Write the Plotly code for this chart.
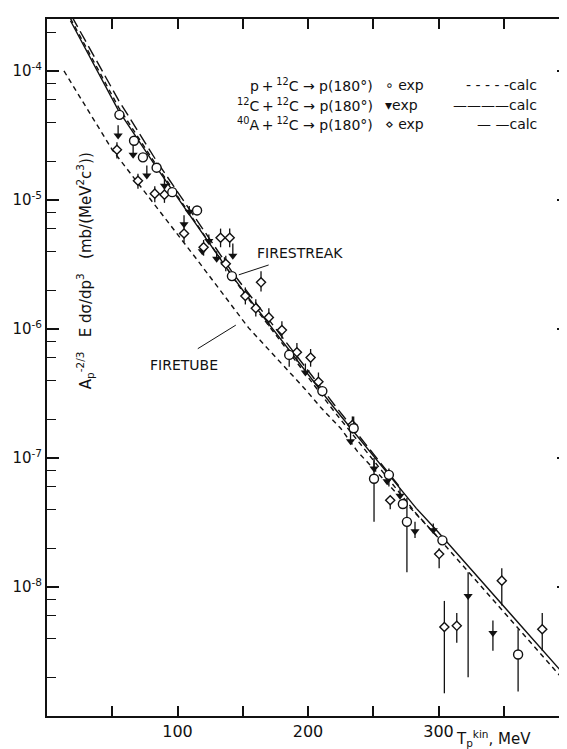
import plotly.graph_objects as go

# ---------------- data ----------------
# calculated curves: kinetic energy (MeV) and cross section
calc_x_12c = [18, 54.5, 84, 142, 154.5, 220, 283, 298.5, 398]
calc_y_12c = [2.45e-4, 5.0e-5, 1.78e-5, 2.57e-6, 1.74e-6, 2.45e-7, 4.07e-8, 2.75e-8, 2.0e-9]

calc_x_streak = [18, 55, 84, 150, 220, 283, 300, 398]
calc_y_streak = [2.55e-4, 5.2e-5, 1.85e-5, 1.95e-6, 2.3e-7, 3.7e-8, 2.4e-8, 1.8e-9]

calc_x_tube = [13, 50, 114, 154.5, 198, 210, 225, 238, 300]
calc_y_tube = [1.0e-4, 2.45e-5, 3.55e-6, 1.02e-6, 3.4e-7, 2.45e-7, 1.7e-7, 1.12e-7, 2.4e-8]

calc_x_40a = [19, 55, 84, 142, 220, 270]
calc_y_40a = [2.65e-4, 5.9e-5, 2.0e-5, 2.75e-6, 2.6e-7, 6.0e-8]

# p + 12C experimental (open circles)
p_x = [55.5, 66.7, 73.5, 84, 96, 115, 141.7, 185.6, 211, 235, 250.6, 262, 272.7, 275.8, 303, 361]
p_y = [4.57e-5, 2.88e-5, 2.14e-5, 1.78e-5, 1.15e-5, 8.3e-6, 2.57e-6, 6.3e-7, 3.3e-7, 1.7e-7,
       6.9e-8, 7.4e-8, 4.4e-8, 3.2e-8, 2.3e-8, 3.0e-9]
p_hi = [4.57e-5, 2.88e-5, 2.14e-5, 1.78e-5, 1.15e-5, 8.3e-6, 2.57e-6, 6.3e-7, 3.3e-7, 2.1e-7,
        1.0e-7, 8.3e-8, 4.4e-8, 4.9e-8, 2.3e-8, 4.7e-9]
p_lo = [4.57e-5, 2.88e-5, 2.14e-5, 1.78e-5, 1.15e-5, 8.3e-6, 2.57e-6, 5.1e-7, 3.3e-7, 1.7e-7,
        3.2e-8, 6.0e-8, 4.4e-8, 1.3e-8, 2.3e-8, 1.55e-9]

# 12C + 12C experimental (filled triangles)
c_x = [54.5, 66, 76.5, 90, 105, 109, 119, 124, 130, 136, 142.4, 198, 232.6, 250.6, 260.6,
       270.5, 282, 296, 322.7, 341.7]
c_y = [3.16e-5, 2.24e-5, 1.55e-5, 1.29e-5, 6.5e-6, 8.1e-6, 4.0e-6, 4.8e-6, 3.5e-6, 3.2e-6,
       3.7e-6, 4.6e-7, 1.35e-7, 8.3e-8, 6.6e-8, 5.1e-8, 2.7e-8, 2.75e-8, 8.5e-9, 4.4e-9]
c_hi = [3.8e-5, 2.7e-5, 1.85e-5, 1.5e-5, 7.6e-6, 9.0e-6, 4.6e-6, 5.4e-6, 4.0e-6, 3.6e-6,
        4.6e-6, 5.4e-7, 1.6e-7, 9.6e-8, 7.6e-8, 5.8e-8, 3.2e-8, 3.1e-8, 1.3e-8, 5.5e-9]
c_lo = [3.16e-5, 2.24e-5, 1.55e-5, 1.29e-5, 6.5e-6, 8.1e-6, 4.0e-6, 4.8e-6, 3.5e-6, 3.2e-6,
        3.7e-6, 4.6e-7, 1.35e-7, 8.3e-8, 6.6e-8, 5.1e-8, 2.4e-8, 2.75e-8, 2.0e-9, 3.2e-9]

# 40A + 12C experimental (open diamonds)
a_x = [53.6, 69.7, 82.6, 90, 105, 120, 133, 137, 140, 152, 160, 164, 170, 180, 191.5, 202,
       208, 234, 263, 300.5, 304.5, 314, 348.5, 379.5]
a_y = [2.45e-5, 1.41e-5, 1.12e-5, 1.10e-5, 5.5e-6, 4.3e-6, 5.1e-6, 3.2e-6, 5.1e-6, 1.8e-6,
       1.45e-6, 2.3e-6, 1.23e-6, 9.8e-7, 6.6e-7, 6.0e-7, 3.9e-7, 1.8e-7, 4.7e-8, 1.8e-8,
       4.9e-9, 5.0e-9, 1.12e-8, 4.7e-9]
a_hi = [2.8e-5, 1.6e-5, 1.28e-5, 1.25e-5, 6.3e-6, 4.9e-6, 6.0e-6, 3.7e-6, 6.0e-6, 2.1e-6,
        1.7e-6, 2.8e-6, 1.45e-6, 1.15e-6, 7.8e-7, 7.0e-7, 4.6e-7, 2.1e-7, 5.0e-8, 2.0e-8,
        7.8e-9, 6.3e-9, 1.4e-8, 6.3e-9]
a_lo = [2.1e-5, 1.22e-5, 9.6e-6, 9.5e-6, 4.7e-6, 3.7e-6, 4.3e-6, 2.8e-6, 4.3e-6, 1.55e-6,
        1.25e-6, 1.95e-6, 1.05e-6, 8.4e-7, 5.6e-7, 5.1e-7, 3.3e-7, 1.55e-7, 4.0e-8, 1.4e-8,
        1.5e-9, 3.7e-9, 7.2e-9, 3.2e-9]

x_tickvals = [100, 200, 300]
x_ticktext = ["100", "200", "300"]
x_minor = [50, 150, 250, 350]
y_tickvals = [1e-8, 1e-7, 1e-6, 1e-5, 1e-4]
y_ticktext = ["10<sup>-8</sup>", "10<sup>-7</sup>", "10<sup>-6</sup>", "10<sup>-5</sup>", "10<sup>-4</sup>"]
y_minor = [m * 10.0 ** e for e in range(-9, -3) for m in (2, 4, 6, 8)]

TS = "\u2009"  # thin space
legend_reaction = ["p" + TS + "+" + TS + "<sup>12</sup>C → p(180°)",
                   "<sup>12</sup>C" + TS + "+" + TS + "<sup>12</sup>C → p(180°)",
                   "<sup>40</sup>A" + TS + "+" + TS + "<sup>12</sup>C → p(180°)"]
legend_exp = ["∘ exp", "▾exp", "⋄ exp"]
legend_calc = ["- - - - -calc", "————calc", "—" + "\u00a0" + "—calc"]

FONT = "DejaVu Sans"
BLACK = "#111111"
NB = "\u00a0"

# pixel frame of the plot area
L, R, T, B = 35, 4, 11, 41
W, H = 567 - L - R, 749 - T - B


def px(xp):
    return (xp - L) / W


def py(yp):
    return 1 - (yp - T) / H


def errs(y, hi, lo):
    return ([h - v for v, h in zip(y, hi)], [v - l for v, l in zip(y, lo)])


fig = go.Figure()

curve_style = dict(color=BLACK, width=1.4)
fig.add_trace(go.Scatter(x=calc_x_tube, y=calc_y_tube, mode="lines",
                         line=dict(dash="5px,4px", **curve_style), hoverinfo="skip"))
fig.add_trace(go.Scatter(x=calc_x_streak, y=calc_y_streak, mode="lines",
                         line=dict(dash="5px,4px", **curve_style), hoverinfo="skip"))
fig.add_trace(go.Scatter(x=calc_x_40a, y=calc_y_40a, mode="lines",
                         line=dict(dash="12px,5px", **curve_style), hoverinfo="skip"))
fig.add_trace(go.Scatter(x=calc_x_12c, y=calc_y_12c, mode="lines",
                         line=dict(**curve_style), hoverinfo="skip"))

up, dn = errs(c_y, c_hi, c_lo)
fig.add_trace(go.Scatter(x=c_x, y=c_y, mode="markers",
                         marker=dict(symbol="triangle-down", size=8, color=BLACK),
                         error_y=dict(type="data", symmetric=False, array=up, arrayminus=dn,
                                      color=BLACK, thickness=1.3, width=0)))
up, dn = errs(a_y, a_hi, a_lo)
fig.add_trace(go.Scatter(x=a_x, y=a_y, mode="markers",
                         marker=dict(symbol="diamond", size=7, color="white",
                                     line=dict(color=BLACK, width=1.4)),
                         error_y=dict(type="data", symmetric=False, array=up, arrayminus=dn,
                                      color=BLACK, thickness=1.3, width=0)))
up, dn = errs(p_y, p_hi, p_lo)
fig.add_trace(go.Scatter(x=p_x, y=p_y, mode="markers",
                         marker=dict(symbol="circle", size=9, color="white",
                                     line=dict(color=BLACK, width=1.4)),
                         error_y=dict(type="data", symmetric=False, array=up, arrayminus=dn,
                                      color=BLACK, thickness=1.3, width=0)))

annotations = []
lf = dict(family=FONT, size=14, color=BLACK)
row_y = [77, 97, 116]
for i in range(3):
    annotations.append(dict(xref="paper", yref="paper", x=px(367), y=py(row_y[i]),
                            text=legend_reaction[i], showarrow=False, xanchor="right",
                            yanchor="middle", font=lf))
    annotations.append(dict(xref="paper", yref="paper", x=px(375), y=py(row_y[i]),
                            text=legend_exp[i], showarrow=False, xanchor="left",
                            yanchor="middle", font=lf))
    annotations.append(dict(xref="paper", yref="paper", x=px(533), y=py(row_y[i]),
                            text=legend_calc[i], showarrow=False, xanchor="right",
                            yanchor="middle", font=lf))

# y-axis title inside the frame
annotations.append(dict(xref="paper", yref="paper", x=px(60), y=py(263),
                        text=("A<sub>p</sub><sup>-2/3</sup>" + NB * 3 + "E dσ/dp<sup>3</sup>" + NB * 3
                              + "(mb/(MeV<sup>2</sup>c<sup>3</sup>))"),
                        textangle=-90, showarrow=False,
                        font=dict(family=FONT, size=15, color=BLACK)))
# curve labels
annotations.append(dict(x=194, y=-5.41, text="FIRESTREAK", showarrow=False,
                        font=dict(family=FONT, size=14, color=BLACK)))
annotations.append(dict(x=105, y=-6.28, text="FIRETUBE", showarrow=False,
                        font=dict(family=FONT, size=14, color=BLACK)))
annotations.append(dict(x=147, y=-5.58, ax=171, ay=-5.50, axref="x", ayref="y", text="",
                        showarrow=True, arrowhead=0, arrowwidth=1, arrowcolor=BLACK))
annotations.append(dict(x=144.7, y=-5.97, ax=114.4, ay=-6.16, axref="x", ayref="y", text="",
                        showarrow=True, arrowhead=0, arrowwidth=1, arrowcolor=BLACK))
# x-axis title
annotations.append(dict(xref="paper", yref="paper", x=px(447), y=py(730),
                        text="T<sub>p</sub><sup>kin</sup>, MeV", showarrow=False,
                        xanchor="left", yanchor="middle",
                        font=dict(family=FONT, size=15, color=BLACK)))

fig.update_layout(
    width=567, height=749,
    margin=dict(l=L, r=R, t=T, b=B),
    paper_bgcolor="white", plot_bgcolor="white",
    showlegend=False,
    annotations=annotations,
    xaxis=dict(range=[0, 400], tickmode="array", tickvals=x_tickvals, ticktext=x_ticktext,
               ticks="inside", ticklen=10, tickwidth=1.5, tickcolor=BLACK,
               showline=True, linecolor=BLACK, linewidth=2, mirror="allticks",
               showgrid=False, zeroline=False,
               minor=dict(tickmode="array", tickvals=x_minor, ticks="inside", ticklen=10,
                          tickwidth=1.5, tickcolor=BLACK, showgrid=False),
               tickfont=dict(family=FONT, size=16, color=BLACK)),
    yaxis=dict(type="log", range=[-9, -3.597], tickmode="array", tickvals=y_tickvals,
               ticktext=y_ticktext, ticks="inside", ticklen=12, tickwidth=1.5, tickcolor=BLACK,
               showline=True, linecolor=BLACK, linewidth=2, mirror="allticks",
               showgrid=False, zeroline=False,
               minor=dict(tickmode="array", tickvals=y_minor, ticks="inside", ticklen=9,
                          tickwidth=1.3, tickcolor=BLACK, showgrid=False),
               tickfont=dict(family=FONT, size=15, color=BLACK)),
)

fig.write_html("out.html")
